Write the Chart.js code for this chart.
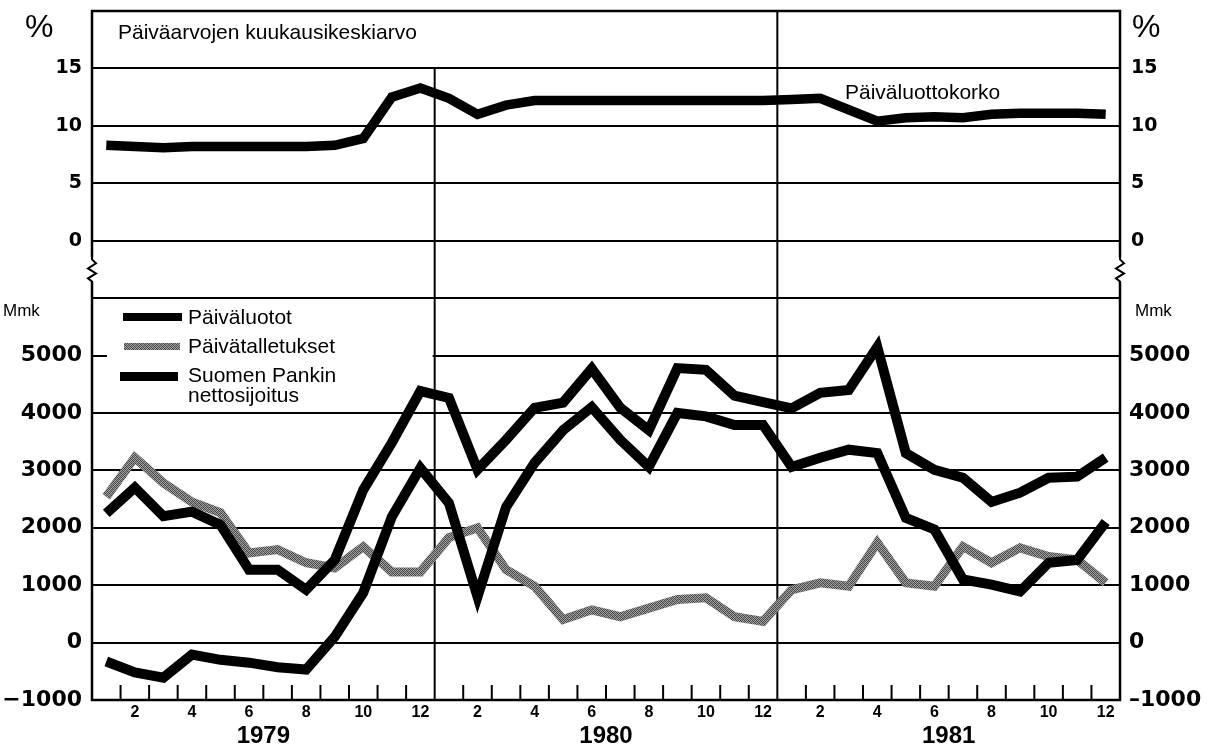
<!DOCTYPE html>
<html>
<head>
<meta charset="utf-8">
<title>Päiväluotot ja päivätalletukset 1979–1981</title>
<script src="https://cdn.jsdelivr.net/npm/chart.js@4.4.1/dist/chart.umd.min.js"></script>
<style>
  html, body { margin: 0; padding: 0; background: #fff; }
  #wrap { width: 1207px; height: 747px; }
</style>
</head>
<body>
<div id="wrap"><canvas id="chart" width="1207" height="747"></canvas></div>
<script>
// categories
var years = ['1979', '1980', '1981'];
var monthNums = [1, 2, 3, 4, 5, 6, 7, 8, 9, 10, 11, 12];

// tick labels
var rateTicks = [0, 5, 10, 15];
var mmkTicks = [-1000, 0, 1000, 2000, 3000, 4000, 5000];

// % (top panel)
var korko = [8.3, 8.2, 8.1, 8.2, 8.2, 8.2, 8.2, 8.2, 8.3, 8.9, 12.5, 13.3,
             12.4, 11.0, 11.8, 12.2, 12.2, 12.2, 12.2, 12.2, 12.2, 12.2, 12.2, 12.2,
             12.3, 12.4, 11.4, 10.4, 10.7, 10.8, 10.7, 11.0, 11.1, 11.1, 11.1, 11.0];

// Mmk (bottom panel)
var luotot = [2250, 2700, 2200, 2280, 2050, 1270, 1270, 920, 1440, 2660, 3480, 4380,
              4260, 3010, 3530, 4090, 4180, 4770, 4090, 3700, 4780, 4750, 4300, 4190,
              4080, 4350, 4400, 5150, 3300, 3010, 2870, 2450, 2610, 2870, 2890, 3220];
var talletukset = [2540, 3220, 2780, 2450, 2260, 1560, 1620, 1390, 1300, 1670, 1230, 1230,
                   1830, 2000, 1270, 980, 400, 570, 450, 600, 750, 780, 450, 370,
                   920, 1040, 980, 1740, 1040, 980, 1670, 1390, 1650, 1500, 1440, 1040];
var nettosijoitus = [-330, -520, -610, -210, -300, -350, -430, -470, 100, 870, 2190, 3040,
                     2430, 800, 2360, 3130, 3700, 4100, 3530, 3060, 4000, 3940, 3790, 3790,
                     3060, 3220, 3360, 3300, 2170, 1970, 1100, 1010, 890, 1390, 1440, 2100];

var labels = [];
years.forEach(function(y) {
  monthNums.forEach(function(m) { labels.push(m + '/' + y); });
});

var canvas = document.getElementById('chart');
var ctx = canvas.getContext('2d');

// stippled grey for the deposits line
function stipple() {
  var c = document.createElement('canvas');
  c.width = 4; c.height = 4;
  var g = c.getContext('2d');
  var shades = ['#444', '#999', '#5c5c5c', '#aaa',
                '#8c8c8c', '#3e3e3e', '#a4a4a4', '#555',
                '#606060', '#b0b0b0', '#4a4a4a', '#929292',
                '#9e9e9e', '#525252', '#8e8e8e', '#444'];
  for (var i = 0; i < 16; i++) {
    g.fillStyle = shades[i];
    g.fillRect(i % 4, Math.floor(i / 4), 1, 1);
  }
  return ctx.createPattern(c, 'repeat');
}
var grey = stipple();

// left side uses a long minus, right side a short dash so the label fits
function fmt(v, pos) {
  if (v >= 0) return String(v);
  return (pos == 'left' ? '\u2212' : '\u2013') + Math.abs(v);
}

var bigFont = { family: 'DejaVu Sans', weight: 'bold', size: 22 };
var pctFont = { family: 'DejaVu Sans', weight: 'bold', size: 19 };

// no extra room for half tick labels, the frame is fixed
function fitY(pos) {
  return function(scale) {
    scale.width = pos == 'left' ? 92 : 87;
    scale.paddingTop = 0;
    scale.paddingBottom = 0;
  };
}

function rateAxis(pos) {
  return {
    type: 'linear', position: pos, stack: pos, stackWeight: 3,
    min: -2.5, max: 20,
    afterBuildTicks: function(scale) {
      scale.ticks = rateTicks.map(function(v) { return { value: v }; });
    },
    afterFit: fitY(pos),
    grid: { display: pos == 'left', color: '#000', lineWidth: 2, drawTicks: false },
    border: { display: false },
    ticks: { color: '#000', font: pctFont, padding: pos == 'left' ? 10 : 11,
      callback: function(v) { return fmt(v, pos); } }
  };
}

function mmkAxis(pos) {
  return {
    type: 'linear', position: pos, stack: pos, stackWeight: 5,
    min: -1000, max: 6500,
    afterBuildTicks: function(scale) {
      scale.ticks = mmkTicks.concat([6000]).map(function(v) { return { value: v }; });
    },
    afterFit: fitY(pos),
    grid: { display: pos == 'left', color: '#000', lineWidth: 2, drawTicks: false },
    border: { display: false },
    ticks: { color: '#000', font: bigFont, padding: pos == 'left' ? 10 : 9,
      callback: function(v) { return mmkTicks.indexOf(v) < 0 ? '' : fmt(v, pos); } }
  };
}

// frame, year lines, tick marks, break marks, legend and loose texts
var decor = {
  id: 'decor',
  beforeDatasetsDraw: function(chart) {
    var c = chart.ctx, a = chart.chartArea, x = chart.scales.x, yT = chart.scales.yTop;
    function edge(k) { return (x.getPixelForValue(k - 1) + x.getPixelForValue(k)) / 2; }
    c.save();
    // legend backdrop hides the 5000 gridline
    c.fillStyle = '#fff';
    c.fillRect(107, 302, edge(12) - 109, 106);
    c.strokeStyle = '#000';
    c.lineWidth = 2;
    c.beginPath();
    c.moveTo(edge(12), yT.getPixelForValue(15)); c.lineTo(edge(12), a.bottom);
    c.moveTo(edge(24), a.top); c.lineTo(edge(24), a.bottom);
    for (var k = 1; k < labels.length; k++) {
      c.moveTo(edge(k), a.bottom); c.lineTo(edge(k), a.bottom - 15);
    }
    c.stroke();
    c.restore();
  },
  afterDatasetsDraw: function(chart) {
    var c = chart.ctx, a = chart.chartArea, yB = chart.scales.yBot;
    c.save();
    c.strokeStyle = '#000';
    c.lineWidth = 2.5;
    c.strokeRect(a.left, a.top, a.right - a.left, a.bottom - a.top);

    // axis break marks
    var mid = yB.top;
    [a.left, a.right].forEach(function(bx) {
      c.fillStyle = '#fff';
      c.fillRect(bx - 6, mid - 12, 12, 24);
      c.lineWidth = 2;
      c.beginPath();
      c.moveTo(bx, mid - 13);
      c.lineTo(bx, mid - 10);
      c.lineTo(bx + 4, mid - 6);
      c.lineTo(bx - 4, mid - 1);
      c.lineTo(bx + 4, mid + 4);
      c.lineTo(bx - 4, mid + 9);
      c.lineTo(bx, mid + 12);
      c.lineTo(bx, mid + 14);
      c.stroke();
    });

    // legend
    var ds = chart.data.datasets;
    c.fillStyle = '#000';
    c.fillRect(123, 313, 59, 8);
    c.fillStyle = grey;
    c.fillRect(124, 343, 56, 7);
    c.fillStyle = '#000';
    c.fillRect(120, 372, 58, 9);
    c.font = '21px "Liberation Sans"';
    c.textBaseline = 'alphabetic';
    c.textAlign = 'left';
    c.fillText(ds[1].label, 188, 324);
    c.fillText(ds[2].label, 188, 353);
    c.fillText('Suomen Pankin', 188, 382);
    c.fillText('nettosijoitus', 188, 402);
    c.restore();
  },
  afterDraw: function(chart) {
    var c = chart.ctx, x = chart.scales.x;
    c.save();
    c.fillStyle = '#000';
    c.textBaseline = 'alphabetic';
    c.textAlign = 'left';
    c.font = '21px "Liberation Sans"';
    c.fillText('Päiväarvojen kuukausikeskiarvo', 118, 39);
    c.fillText(chart.data.datasets[0].label, 845, 99);
    c.font = '32px "Liberation Sans"';
    c.fillText('%', 25, 37);
    c.fillText('%', 1132, 37);
    c.font = '17px "Liberation Sans"';
    c.fillText('Mmk', 3, 316);
    c.fillText('Mmk', 1135, 316);
    c.font = 'bold 24px "Liberation Sans"';
    c.textAlign = 'center';
    years.forEach(function(y, i) {
      var mid = (x.getPixelForValue(i * 12 + 5) + x.getPixelForValue(i * 12 + 6)) / 2;
      c.fillText(y, mid, 743);
    });
    c.restore();
  }
};

new Chart(canvas, {
  type: 'line',
  data: {
    labels: labels,
    datasets: [
      { label: 'Päiväluottokorko', data: korko, yAxisID: 'yTop',
        borderColor: '#000', borderWidth: 9.5, order: 0 },
      { label: 'Päiväluotot', data: luotot, yAxisID: 'yBot',
        borderColor: '#000', borderWidth: 10, order: 1 },
      { label: 'Päivätalletukset', data: talletukset, yAxisID: 'yBot',
        borderColor: grey, borderWidth: 9, order: 3 },
      { label: 'Suomen Pankin nettosijoitus', data: nettosijoitus, yAxisID: 'yBot',
        borderColor: '#000', borderWidth: 10, order: 2 }
    ]
  },
  options: {
    responsive: false,
    animation: false,
    devicePixelRatio: 1,
    events: [],
    layout: { padding: { top: 11, left: 0, right: 0, bottom: 0 } },
    elements: {
      point: { radius: 0 },
      line: { tension: 0, fill: false, borderJoinStyle: 'miter', borderCapStyle: 'butt' }
    },
    plugins: { legend: { display: false }, tooltip: { enabled: false } },
    scales: {
      x: {
        type: 'category', offset: true,
        afterFit: function(scale) {
          scale.height = 47;
          scale.paddingLeft = 0;
          scale.paddingRight = 0;
        },
        grid: { display: false, drawTicks: false },
        border: { display: false },
        ticks: {
          autoSkip: false, maxRotation: 0, padding: 3, color: '#000',
          font: { family: 'Liberation Sans', weight: 'bold', size: 16 },
          callback: function(v) {
            var m = parseInt(this.getLabelForValue(v), 10);
            return m % 2 == 0 ? String(m) : '';
          }
        }
      },
      // left side is stacked in reverse order, so the lower panel comes first
      yBot: mmkAxis('left'),
      yTop: rateAxis('left'),
      yTopR: rateAxis('right'),
      yBotR: mmkAxis('right')
    }
  },
  plugins: [decor]
});
</script>
</body>
</html>
